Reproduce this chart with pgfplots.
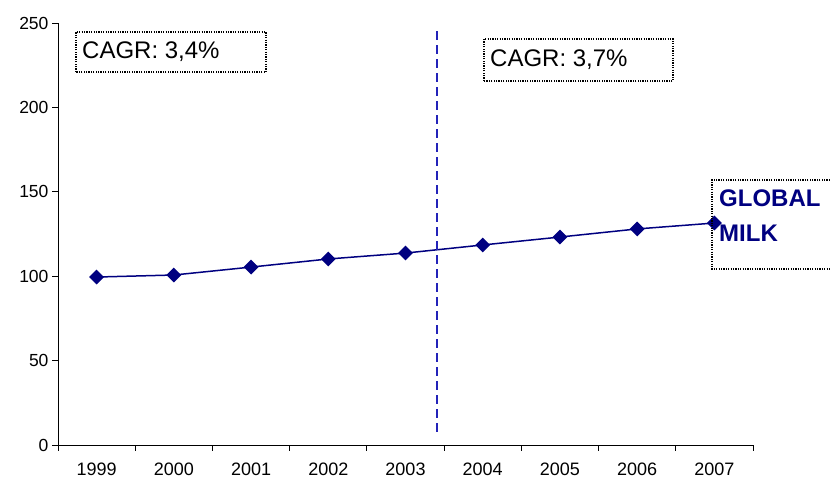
\documentclass[border=0pt]{standalone}
\usepackage{fontspec}
\setmainfont{Liberation Sans}
\usepackage{pgfplots}
\pgfplotsset{compat=1.18}
\definecolor{navy}{RGB}{0,0,128}
\definecolor{dashblue}{RGB}{35,35,185}
\begin{document}
\begin{tikzpicture}[x=1pt,y=1pt]
\useasboundingbox (0,0) rectangle (830,481);
\begin{axis}[
    at={(58pt,36pt)}, anchor=south west,
    width=695pt, height=422pt, scale only axis,
    xmin=-0.5, xmax=8.5,
    ymin=0, ymax=250,
    axis x line=bottom, axis y line=left,
    axis line style={-, black, line width=0.8pt},
    xtick={0,...,8},
    xticklabels={1999,2000,2001,2002,2003,2004,2005,2006,2007},
    minor xtick={-0.5,0.5,...,8.5},
    ytick={0,50,...,250},
    tick align=outside,
    major tick length=6pt, minor tick length=6pt,
    tick style={black, line width=0.8pt},
    every major x tick/.append style={draw=none},
    xticklabel style={font=\fontsize{18}{20}\selectfont, yshift=-8pt},
    yticklabel style={font=\fontsize{17.5}{20}\selectfont},
    /pgf/number format/assume math mode=true,
    clip=false
]
% global milk index
\addplot[navy, line width=1.5pt, mark=square*, mark size=4.5pt,
    mark options={rotate=45, fill=navy, solid}]
    coordinates {(0,99.5) (1,100.7) (2,105.4) (3,110.2) (4,113.7)
                 (5,118.5) (6,123.2) (7,128) (8,131.5)};
% split between periods
\addplot[draw=dashblue, line width=1.5pt, dash pattern=on 9pt off 5pt, no marks]
    coordinates {(4.41,7.7) (4.41,246)};
\end{axis}

% CAGR boxes
\draw[line width=1.2pt, dash pattern=on 1.2pt off 1.2pt] (76,409) rectangle (266,449);
\node[anchor=west, inner sep=0, font=\fontsize{24}{28}\selectfont] at (82,429) {CAGR: 3,4\%};
\draw[line width=1.2pt, dash pattern=on 1.2pt off 1.2pt] (484,400) rectangle (673,442);
\node[anchor=west, inner sep=0, font=\fontsize{24}{28}\selectfont] at (490,421) {CAGR: 3,7\%};

% series label
\draw[line width=1.2pt, dash pattern=on 1.2pt off 1.2pt] (830,301) -- (712,301) -- (712,212) -- (830,212);
\node[anchor=base west, inner sep=0, text=navy, font=\fontsize{24}{28}\selectfont\bfseries] at (719,274.3) {GLOBAL};
\node[anchor=base west, inner sep=0, text=navy, font=\fontsize{24}{28}\selectfont\bfseries] at (719,239.3) {MILK};
\end{tikzpicture}
\end{document}
